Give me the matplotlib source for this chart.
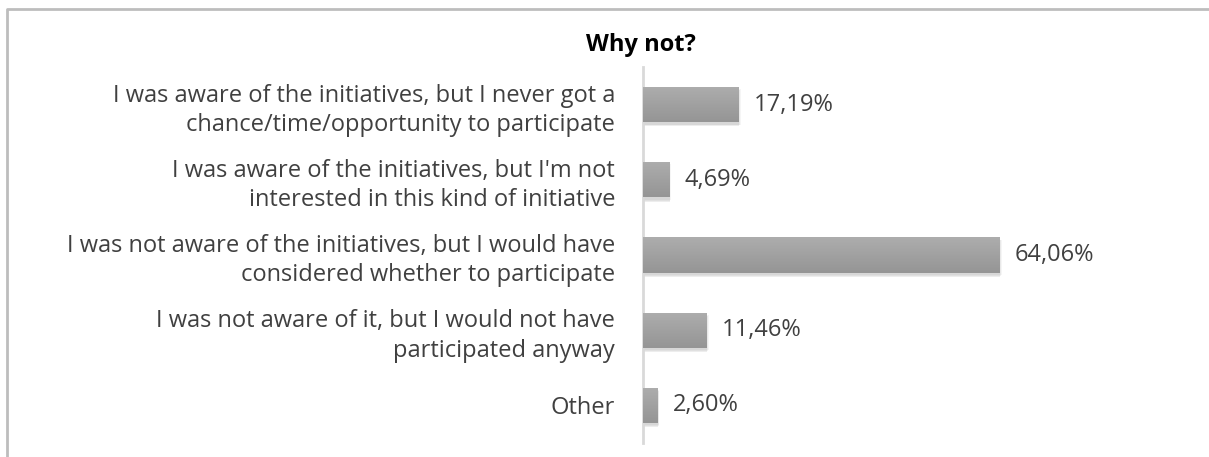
import matplotlib.pyplot as plt
import numpy as np
from matplotlib.patches import Rectangle
from matplotlib.colors import LinearSegmentedColormap

plt.rcParams['font.family'] = ['Open Sans', 'DejaVu Sans']

# Answers (top to bottom) and their shares in percent
answers = [
    "I was aware of the initiatives, but I never got a\nchance/time/opportunity to participate",
    "I was aware of the initiatives, but I'm not\ninterested in this kind of initiative",
    "I was not aware of the initiatives, but I would have\nconsidered whether to participate",
    "I was not aware of it, but I would not have\nparticipated anyway",
    "Other",
]
shares = [17.19, 4.69, 64.06, 11.46, 2.60]

fig = plt.figure(figsize=(12.09, 4.57), dpi=100)

# light frame around the chart area
frame = fig.add_axes([0, 0, 1, 1], facecolor='none')
frame.set_xlim(0, 1209)
frame.set_ylim(457, 0)
frame.axis('off')
frame.plot([6.5, 6.5, 1209], [460, 8.5, 8.5], color='#bdbdbd', lw=2, solid_capstyle='butt')

ax = fig.add_axes([643 / 1209, 14 / 457, 390 / 1209, 376 / 457])

height = 0.47
grad = np.linspace(0, 1, 64).reshape(-1, 1)
cmap = LinearSegmentedColormap.from_list('bar_grad', ['#adadad', '#959595'])
for i, v in enumerate(shares):
    # soft drop shadow
    for k, a in enumerate([0.04, 0.05, 0.07]):
        off = 0.03 + 0.012 * k
        sh = Rectangle((0, i - height / 2 + off), v + 0.1 + 0.12 * (2 - k), height,
                       facecolor='black', alpha=a, lw=0, zorder=1)
        ax.add_patch(sh)
    bar = ax.barh(i, v, height=height, color='#a3a3a3', lw=0, zorder=2)[0]
    img = ax.imshow(grad, cmap=cmap, extent=(0, v, i + height / 2, i - height / 2),
                    aspect='auto', zorder=3, interpolation='bicubic')
    img.set_clip_path(bar)
    ax.text(v + 2.7, i, f"{v:.2f}%".replace('.', ','), va='center', ha='left',
            fontsize=17, color='#404040')

ax.set_xlim(0, 70)
ax.set_ylim(len(shares) - 0.5, -0.5)
ax.set_yticks(range(len(shares)))
ax.set_yticklabels(answers, fontsize=17, color='#404040', linespacing=1.3)
ax.tick_params(axis='y', length=0, pad=20)
ax.set_xticks([])
for s in ['top', 'right', 'bottom']:
    ax.spines[s].set_visible(False)
ax.spines['left'].set_color('#d9d9d9')
ax.spines['left'].set_linewidth(2)

fig.text(641 / 1209, 1 - 45 / 457, 'Why not?', ha='center', va='center',
         fontsize=17, fontweight='bold', color='black')

fig.savefig('out.png', dpi=100)
